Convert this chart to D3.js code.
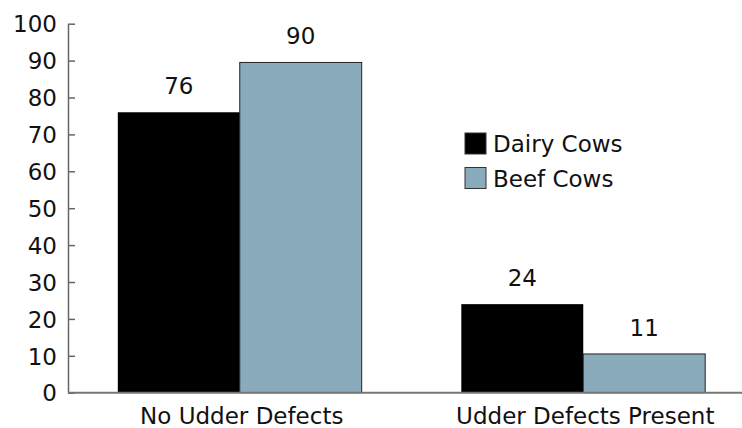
<!DOCTYPE html>
<html lang="en">
<head>
    <meta charset="UTF-8">
    <title>Udder Defects by Cow Type</title>
    <script src="https://d3js.org/d3.v7.min.js"></script>
    <style>
        body { margin: 0; background: #fff; }
        svg { display: block; font-family: "DejaVu Sans", sans-serif; }
        .lbl { font-size: 23px; fill: #111; }
    </style>
</head>
<body>
    <svg width="742" height="428"></svg>
    <script>
        // chart data
        const categories = ["No Udder Defects", "Udder Defects Present"];
        const seriesNames = ["Dairy Cows", "Beef Cows"];
        const dairyValues = [76, 24];
        const beefValues = [89.5, 10.5];
        const yTicks = [0, 10, 20, 30, 40, 50, 60, 70, 80, 90, 100];
        const colors = ["#000000", "#8aabbc"];

        const W = 742, H = 428;
        const plotLeft = 68, plotTop = 23.7, plotBottom = 392.7;

        const svg = d3.select("svg");

        const rows = categories.map((c, i) => ({
            cat: c,
            vals: [dairyValues[i], beefValues[i]]
        }));

        const x0 = d3.scaleBand()
                     .domain(categories)
                     .range([plotLeft, 755])
                     .paddingInner(0.29)
                     .paddingOuter(0.145);

        const x1 = d3.scaleBand()
                     .domain(seriesNames)
                     .range([0, x0.bandwidth()]);

        const y = d3.scaleLinear()
                    .domain([0, 100])
                    .range([plotBottom, plotTop]);

        // bars
        const groups = svg.selectAll("g.grp")
            .data(rows)
            .enter().append("g")
            .attr("class", "grp")
            .attr("transform", d => `translate(${x0(d.cat)},0)`);

        groups.selectAll("rect")
            .data(d => d.vals.map((v, k) => ({ name: seriesNames[k], v: v, k: k })))
            .enter().append("rect")
            .attr("x", d => x1(d.name))
            .attr("y", d => y(d.v))
            .attr("width", x1.bandwidth())
            .attr("height", d => y(0) - y(d.v))
            .attr("fill", d => colors[d.k])
            .attr("stroke", d => d.k === 1 ? "#222" : "none")
            .attr("stroke-width", 1);

        // value labels
        groups.selectAll("text.val")
            .data(d => d.vals.map((v, k) => ({ name: seriesNames[k], v: v })))
            .enter().append("text")
            .attr("class", "lbl val")
            .attr("x", d => x1(d.name) + x1.bandwidth() / 2)
            .attr("y", d => y(d.v) - 18)
            .attr("text-anchor", "middle")
            .text(d => Math.round(d.v));

        // y axis, ticks pointing inward
        const yAxis = svg.append("g")
            .attr("transform", `translate(${plotLeft},0)`)
            .call(d3.axisLeft(y).tickValues(yTicks).tickSizeInner(-7).tickSizeOuter(0).tickPadding(11));
        yAxis.attr("font-size", null).attr("font-family", null);
        yAxis.select(".domain").attr("stroke", "#666").attr("stroke-width", 1.5);
        yAxis.selectAll(".tick line").attr("stroke", "#666").attr("stroke-width", 1.5);
        yAxis.selectAll(".tick text")
             .attr("class", "lbl")
             .attr("fill", null)
             .attr("dy", "0.36em");

        // x axis baseline
        svg.append("line")
           .attr("x1", plotLeft).attr("x2", W)
           .attr("y1", y(0)).attr("y2", y(0))
           .attr("stroke", "#777").attr("stroke-width", 2);

        // category labels
        svg.selectAll("text.cat")
           .data(categories)
           .enter().append("text")
           .attr("class", "lbl cat")
           .attr("x", d => x0(d) + x0.bandwidth() / 2 + 2)
           .attr("y", 424)
           .attr("text-anchor", "middle")
           .text(d => d);

        // legend
        const legend = svg.append("g").attr("transform", "translate(465,133)");
        seriesNames.forEach((s, i) => {
            const row = legend.append("g").attr("transform", `translate(0,${i * 34.5})`);
            row.append("rect")
               .attr("width", 21).attr("height", 21)
               .attr("fill", colors[i])
               .attr("stroke", "#333").attr("stroke-width", 1);
            row.append("text")
               .attr("class", "lbl")
               .attr("x", 28)
               .attr("y", 19)
               .text(s);
        });
    </script>
</body>
</html>
